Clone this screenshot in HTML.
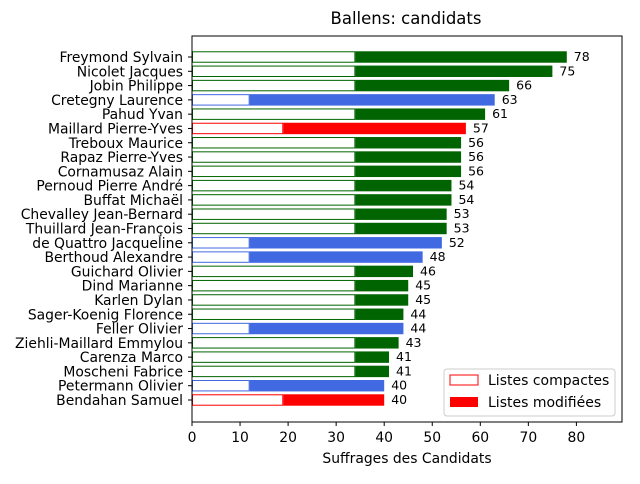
<!DOCTYPE html>
<html><head><meta charset="utf-8"><style>
body{margin:0;background:#fff;font-family:"DejaVu Sans","Liberation Sans",sans-serif}
</style></head><body>
<svg id="chart" width="640" height="480" xmlns="http://www.w3.org/2000/svg" font-family="DejaVu Sans, Liberation Sans, sans-serif">
<rect width="640" height="480" fill="#fff"/>
<text x="406" y="24" text-anchor="middle" font-size="16.5">Ballens: candidats</text>
<g id="marks"></g>
<rect x="192" y="36" width="430" height="386" fill="none" stroke="#000" stroke-width="1"/>
<g id="axes"></g>
<text x="407" y="463" text-anchor="middle" font-size="13.9">Suffrages des Candidats</text>
<g>
<rect x="444" y="369" width="171" height="47" rx="3" fill="#fff" fill-opacity="0.85" stroke="#ccc"/>
<rect x="450" y="375" width="28" height="10" fill="#fff" stroke="red"/>
<text x="488" y="385" font-size="14">Listes compactes</text>
<rect x="450" y="397" width="28" height="10" fill="red"/>
<text x="488" y="407" font-size="14">Listes modifiées</text>
</g>
</svg>
<script>
const names=["Freymond Sylvain","Nicolet Jacques","Jobin Philippe","Cretegny Laurence","Pahud Yvan","Maillard Pierre-Yves","Treboux Maurice","Rapaz Pierre-Yves","Cornamusaz Alain","Pernoud Pierre André","Buffat Michaël","Chevalley Jean-Bernard","Thuillard Jean-François","de Quattro Jacqueline","Berthoud Alexandre","Guichard Olivier","Dind Marianne","Karlen Dylan","Sager-Koenig Florence","Feller Olivier","Ziehli-Maillard Emmylou","Carenza Marco","Moscheni Fabrice","Petermann Olivier","Bendahan Samuel"];
const totals=[78,75,66,63,61,57,56,56,56,54,54,53,53,52,48,46,45,45,44,44,43,41,41,40,40];
const compact=[34,34,34,12,34,19,34,34,34,34,34,34,34,12,12,34,34,34,34,12,34,34,34,12,19];
const colors=["darkgreen","darkgreen","darkgreen","royalblue","darkgreen","red","darkgreen","darkgreen","darkgreen","darkgreen","darkgreen","darkgreen","darkgreen","royalblue","royalblue","darkgreen","darkgreen","darkgreen","darkgreen","royalblue","darkgreen","darkgreen","darkgreen","royalblue","red"];
const xTicks=[0,10,20,30,40,50,60,70,80];
const NS="http://www.w3.org/2000/svg";
const x=v=>192+v*4.805;
const n=names.length;
const step=(400-57)/(n-1);
const y=i=>57+i*step;
const bh=step*0.8;
const marks=document.getElementById('marks'),axes=document.getElementById('axes');
function mk(t,a,p){const e=document.createElementNS(NS,t);for(const k in a)e.setAttribute(k,a[k]);p.appendChild(e);return e;}
names.forEach((nm,i)=>{
 const cy=y(i);
 const r1=mk('rect',{x:x(compact[i]),y:cy-bh/2,width:x(totals[i])-x(compact[i]),height:bh,fill:colors[i]},marks);
 
 
 const r2=mk('rect',{x:x(0)+0.5,y:cy-bh/2+0.5,width:x(compact[i])-x(0)-1,height:bh-1,fill:'#fff',stroke:colors[i],'stroke-width':1},marks);
 
 
 const t=mk('text',{x:x(totals[i])+7,y:cy+4,'font-size':12.5},marks);t.textContent=totals[i];
 
 
 mk('line',{x1:188,x2:192,y1:cy,y2:cy,stroke:'#000'},axes);
 const l=mk('text',{x:183,y:cy+5,'text-anchor':'end','font-size':13.9},axes);l.textContent=nm;
 
 
});
xTicks.forEach(v=>{
 mk('line',{x1:x(v),x2:x(v),y1:422,y2:426,stroke:'#000'},axes);
 const t=mk('text',{x:x(v),y:442,'text-anchor':'middle','font-size':13.9},axes);t.textContent=v;
 
 
});
</script>
</body></html>
